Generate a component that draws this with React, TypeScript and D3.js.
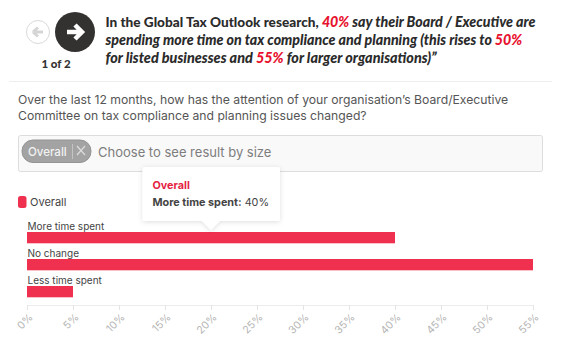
import React, { useEffect, useRef } from "react";
import * as d3 from "d3";

const categories = ["More time spent", "No change", "Less time spent"];
const values = [40, 55, 5];
const ticks = [0, 5, 10, 15, 20, 25, 30, 35, 40, 45, 50, 55];
const seriesName = "Overall";
const question = [
  "Over the last 12 months, how has the attention of your organisation\u2019s Board/Executive",
  "Committee on tax compliance and planning issues changed?",
];
const RED = "#f0304f";
const BOLD = "Lato, 'Noto Sans', sans-serif";
const BODY = "Inter, Roboto, 'Noto Sans', sans-serif";

export default function App() {
  const axisRef = useRef<SVGGElement>(null);
  const x = d3.scaleLinear().domain([0, 55]).range([27, 533]);
  const y = d3.scaleBand().domain(categories).range([223, 304]).paddingInner(0);

  useEffect(() => {
    const g = d3.select(axisRef.current as SVGGElement);
    g.selectAll("*").remove();
    g.call(
      d3
        .axisBottom(x)
        .tickValues(ticks)
        .tickSize(5)
        .tickFormat((d) => `${d}%`) as any
    );
    g.select(".domain").attr("stroke", "#ececec");
    g.selectAll(".tick line").attr("stroke", "#e4e4e4");
    g.selectAll(".tick text")
      .attr("transform", "rotate(-45)")
      .attr("text-anchor", "end")
      .attr("x", -5)
      .attr("y", 13.4)
      .attr("dy", 0)
      .attr("fill", "#b4b4b4")
      .style("font-family", BODY)
      .style("font-size", "10.5px");
  }, []);

  const ttX = x(20);
  return (
    <svg
      width={567}
      height={355}
      style={{ position: "absolute", left: 0, top: 0, background: "#fff" }}
    >
      <defs>
        <filter id="sh" x="-10%" y="-15%" width="120%" height="135%">
          <feDropShadow dx="0" dy="1" stdDeviation="2.5" floodColor="#000" floodOpacity="0.13" />
        </filter>
      </defs>

      {/* Header navigation */}
      <circle cx={38} cy={32} r={11.5} fill="#fff" stroke="#d9d9d9" strokeWidth={1} />
      <path
        d="M33 32 L38 27.5 M33 32 L38 36.5 M33 32 L43 32"
        stroke="#d5d5d5"
        strokeWidth={3}
        fill="none"
      />
      <circle cx={75} cy={32} r={20} fill="#333230" />
      <path
        d="M67 32 L81 32 M75 25 L82 32 L75 39"
        stroke="#fff"
        strokeWidth={4.5}
        fill="none"
      />
      <text x={56} y={68} textAnchor="middle" fontFamily={BOLD} fontWeight={900} fontSize={11.5} fill="#333">
        1 of 2
      </text>

      <g fontFamily={BOLD} fontWeight={900} fontSize={13.6} fill="#2b2b2b">
        <text x={105.5} y={27}>
          In the Global Tax Outlook research,{" "}
          <tspan fontStyle="italic" fontSize={14.2} fill="#e8112d">40%</tspan>
          <tspan fontStyle="italic" fontSize={14.2}> say their Board / Executive are</tspan>
        </text>
        <text x={105.5} y={45} fontStyle="italic" fontSize={14.2}>
          spending more time on tax compliance and planning (this rises to{" "}
          <tspan fill="#e8112d">50%</tspan>
        </text>
        <text x={105.5} y={63} fontStyle="italic" fontSize={14.4}>
          for listed businesses and <tspan fill="#e8112d">55%</tspan> for larger organisations){"\u201D"}
        </text>
      </g>

      <line x1={9} x2={552} y1={81.5} y2={81.5} stroke="#eeeeee" />

      {/* Question */}
      <g fontFamily={BODY} fontSize={12.2} fill="#555">
        {question.map((q, i) => (
          <text key={i} x={18} y={104 + i * 16}>
            {q}
          </text>
        ))}
      </g>

      {/* Filter box */}
      <rect x={18.5} y={135.5} width={524} height={36} rx={2} fill="#f9f9f9" stroke="#dddddd" />
      <rect x={22} y={140} width={69} height={22.5} rx={11} fill="#a3a3a3" stroke="#949494" />
      <text x={28} y={156} fontFamily={BODY} fontSize={11.5} fontWeight={500} fill="#f2f2f2">
        {seriesName}
      </text>
      <line x1={72.5} x2={72.5} y1={144} y2={159} stroke="#c4c4c4" />
      <path d="M77 146 L85 155 M85 146 L77 155" stroke="#dcdcdc" strokeWidth={1.2} />
      <text x={98} y={157} fontFamily={BODY} fontSize={13} fill="#7d7d7d">
        Choose to see result by size
      </text>

      {/* Legend */}
      <rect x={18} y={196} width={8.5} height={12} rx={2.5} fill={RED} />
      <text x={30} y={206} fontFamily={BODY} fontSize={11} fill="#444">
        {seriesName}
      </text>

      {/* Bars */}
      {categories.map((c, i) => {
        const top = y(c) as number;
        return (
          <g key={c}>
            <text x={27.5} y={top + 6.5} fontFamily={BODY} fontSize={10} fill="#444">
              {c}
            </text>
            <rect x={x(0)} y={top + 9} width={x(values[i]) - x(0)} height={11.3} fill={RED} />
          </g>
        );
      })}

      <g ref={axisRef} transform="translate(0,305)" />

      {/* Tooltip */}
      <path
        d={`M142.5 169 a2 2 0 0 1 2 -2 H278 a2 2 0 0 1 2 2 V219 a2 2 0 0 1 -2 2 H${ttX + 9} L${ttX} 230 L${ttX - 9} 221 H144.5 a2 2 0 0 1 -2 -2 Z`}
        fill="#fff"
        filter="url(#sh)"
      />
      <text x={152.5} y={189} fontFamily={BODY} fontSize={10.8} fontWeight={700} fill="#e5243f">
        {seriesName}
      </text>
      <text x={152.5} y={206} fontFamily={BODY} fontSize={10.8} fill="#444">
        <tspan fontWeight={700}>{categories[0]}:</tspan> {values[0]}%
      </text>
    </svg>
  );
}
